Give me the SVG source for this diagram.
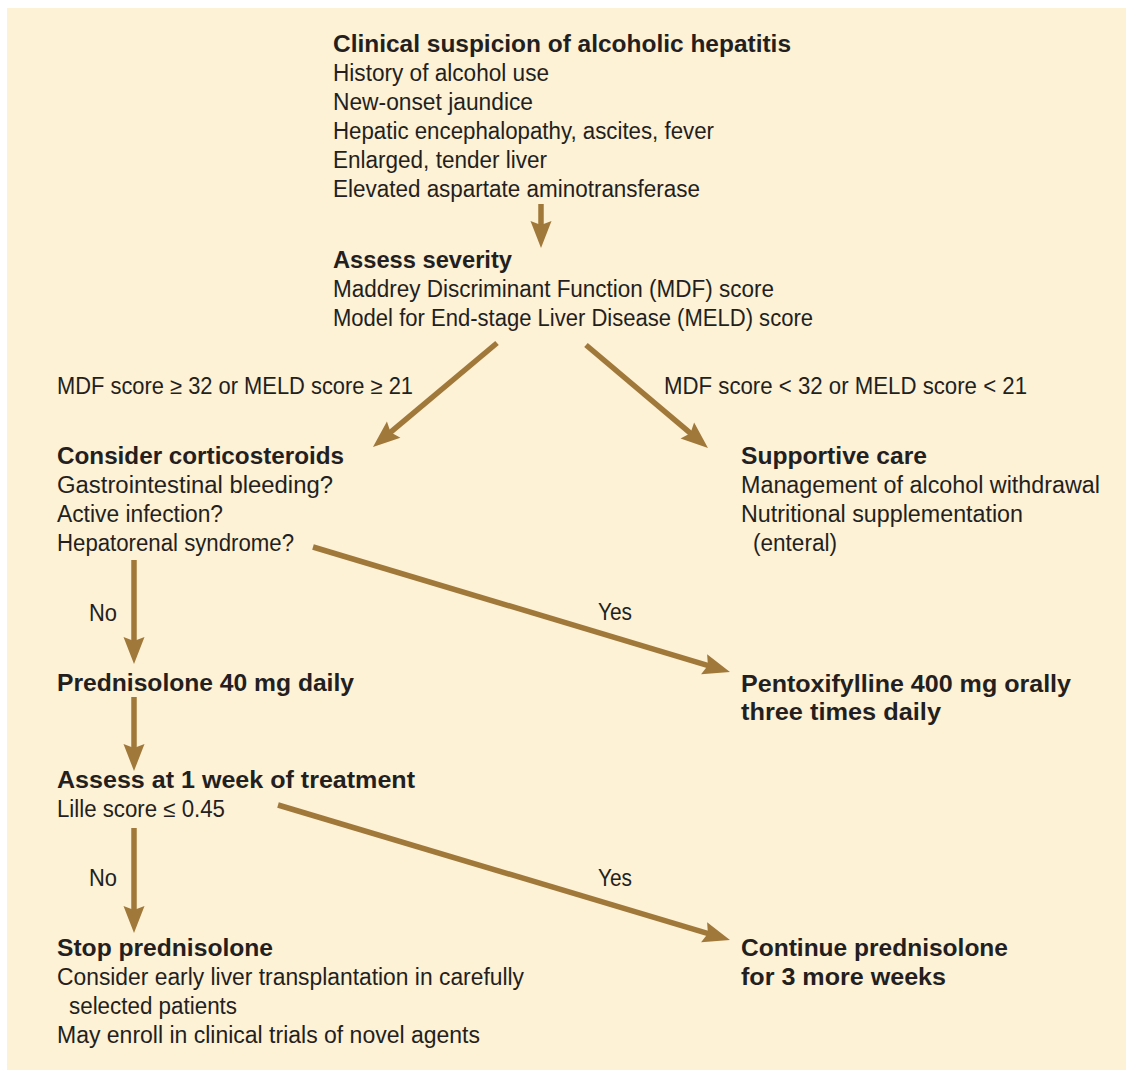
<svg xmlns="http://www.w3.org/2000/svg" width="1126" height="1070" viewBox="0 0 1126 1070">
<style>
  text { font-family: "Liberation Sans", Arial, sans-serif; font-size: 23px; fill: #231F20; }
  .b { font-weight: bold; }
  .arr { stroke: #A0783A; stroke-width: 5.5; fill: none; marker-end: url(#ah); }
</style>
<defs>
  <marker id="ah" markerUnits="userSpaceOnUse" viewBox="-8 -12 30 24" markerWidth="30" markerHeight="24" refX="0" refY="0" orient="auto">
    <path d="M20,0 L-7,-10.5 L-3,0 L-7,10.5 Z" fill="#A0783A"/>
  </marker>
</defs>
<rect x="7" y="8" width="1119" height="1062" fill="#FDF1D6"/>

<g id="connectors">
  <line class="arr" x1="541" y1="204" x2="541" y2="228"/>
  <line class="arr" x1="497" y1="343" x2="388.3" y2="434.1"/>
  <line class="arr" x1="586" y1="345" x2="692.7" y2="435.1"/>
  <line class="arr" x1="134" y1="560" x2="134" y2="644"/>
  <line class="arr" x1="313" y1="547" x2="710.8" y2="666.3"/>
  <line class="arr" x1="134" y1="697" x2="134" y2="751"/>
  <line class="arr" x1="134" y1="828" x2="134" y2="913"/>
  <line class="arr" x1="278" y1="805" x2="710.8" y2="934.3"/>
  <text x="57" y="394" textLength="356" lengthAdjust="spacingAndGlyphs">MDF score ≥ 32 or MELD score ≥ 21</text>
  <text x="664" y="394" textLength="363" lengthAdjust="spacingAndGlyphs">MDF score &lt; 32 or MELD score &lt; 21</text>
  <text x="89" y="621" textLength="28" lengthAdjust="spacingAndGlyphs">No</text>
  <text x="598" y="620" textLength="34" lengthAdjust="spacingAndGlyphs">Yes</text>
  <text x="89" y="886" textLength="28" lengthAdjust="spacingAndGlyphs">No</text>
  <text x="598" y="886" textLength="34" lengthAdjust="spacingAndGlyphs">Yes</text>
</g>

<g id="node-suspicion">
  <text class="b" x="333" y="52" textLength="458" lengthAdjust="spacingAndGlyphs">Clinical suspicion of alcoholic hepatitis</text>
  <text x="333" y="81" textLength="216" lengthAdjust="spacingAndGlyphs">History of alcohol use</text>
  <text x="333" y="110" textLength="200" lengthAdjust="spacingAndGlyphs">New-onset jaundice</text>
  <text x="333" y="139" textLength="381" lengthAdjust="spacingAndGlyphs">Hepatic encephalopathy, ascites, fever</text>
  <text x="333" y="168" textLength="214" lengthAdjust="spacingAndGlyphs">Enlarged, tender liver</text>
  <text x="333" y="197" textLength="367" lengthAdjust="spacingAndGlyphs">Elevated aspartate aminotransferase</text>
</g>

<g id="node-severity">
  <text class="b" x="333" y="268" textLength="179" lengthAdjust="spacingAndGlyphs">Assess severity</text>
  <text x="333" y="297" textLength="441" lengthAdjust="spacingAndGlyphs">Maddrey Discriminant Function (MDF) score</text>
  <text x="333" y="326" textLength="480" lengthAdjust="spacingAndGlyphs">Model for End-stage Liver Disease (MELD) score</text>
</g>

<g id="node-corticosteroids">
  <text class="b" x="57" y="464" textLength="287" lengthAdjust="spacingAndGlyphs">Consider corticosteroids</text>
  <text x="57" y="493" textLength="276" lengthAdjust="spacingAndGlyphs">Gastrointestinal bleeding?</text>
  <text x="57" y="522" textLength="166" lengthAdjust="spacingAndGlyphs">Active infection?</text>
  <text x="57" y="551" textLength="237" lengthAdjust="spacingAndGlyphs">Hepatorenal syndrome?</text>
</g>

<g id="node-supportive">
  <text class="b" x="741" y="464" textLength="186" lengthAdjust="spacingAndGlyphs">Supportive care</text>
  <text x="741" y="493" textLength="359" lengthAdjust="spacingAndGlyphs">Management of alcohol withdrawal</text>
  <text x="741" y="522" textLength="282" lengthAdjust="spacingAndGlyphs">Nutritional supplementation</text>
  <text x="753" y="551" textLength="84" lengthAdjust="spacingAndGlyphs">(enteral)</text>
</g>

<g id="node-prednisolone">
  <text class="b" x="57" y="691" textLength="297" lengthAdjust="spacingAndGlyphs">Prednisolone 40 mg daily</text>
</g>

<g id="node-pentoxifylline">
  <text class="b" x="741" y="692" textLength="330" lengthAdjust="spacingAndGlyphs">Pentoxifylline 400 mg orally</text>
  <text class="b" x="741" y="720" textLength="200" lengthAdjust="spacingAndGlyphs">three times daily</text>
</g>

<g id="node-assess-week">
  <text class="b" x="57" y="788" textLength="358" lengthAdjust="spacingAndGlyphs">Assess at 1 week of treatment</text>
  <text x="57" y="817" textLength="168" lengthAdjust="spacingAndGlyphs">Lille score ≤ 0.45</text>
</g>

<g id="node-stop">
  <text class="b" x="57" y="956" textLength="216" lengthAdjust="spacingAndGlyphs">Stop prednisolone</text>
  <text x="57" y="985" textLength="467" lengthAdjust="spacingAndGlyphs">Consider early liver transplantation in carefully</text>
  <text x="69" y="1014" textLength="168" lengthAdjust="spacingAndGlyphs">selected patients</text>
  <text x="57" y="1043" textLength="423" lengthAdjust="spacingAndGlyphs">May enroll in clinical trials of novel agents</text>
</g>

<g id="node-continue">
  <text class="b" x="741" y="956" textLength="267" lengthAdjust="spacingAndGlyphs">Continue prednisolone</text>
  <text class="b" x="741" y="985" textLength="205" lengthAdjust="spacingAndGlyphs">for 3 more weeks</text>
</g>
</svg>
